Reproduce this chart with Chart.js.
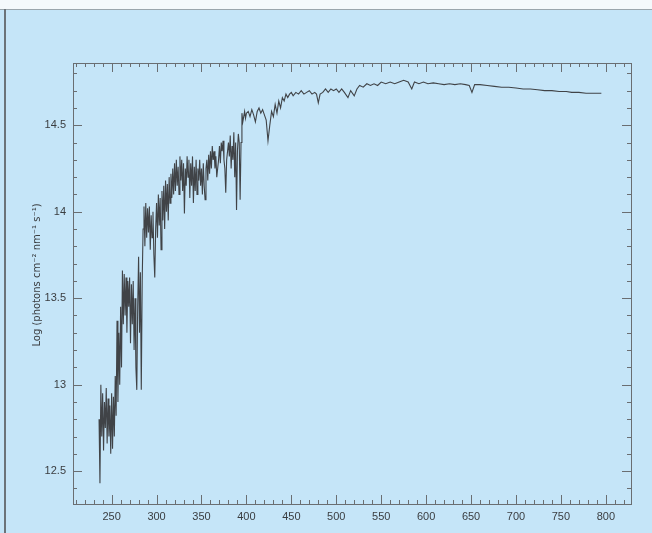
<!DOCTYPE html>
<html>
<head>
<meta charset="utf-8">
<script src="https://cdn.jsdelivr.net/npm/chart.js@4/dist/chart.umd.min.js"></script>
<style>
  html, body { margin: 0; padding: 0; }
  body { width: 652px; height: 533px; background: #c5e5f8; position: relative; overflow: hidden; }
  #topStrip { position: absolute; left: 0; top: 0; width: 652px; height: 9px; background: #f4f9fc; border-bottom: 1px solid #9aa6ad; }
  #leftEdge { position: absolute; left: 4px; top: 9px; width: 2px; height: 524px; background: #6b7379; }
  #wrap { position: absolute; left: 0; top: 0; width: 652px; height: 533px; }
</style>
</head>
<body>
<div id="topStrip"></div>
<div id="leftEdge"></div>
<div id="wrap"><canvas id="c" width="652" height="533"></canvas></div>
<script>
// wavelength (nm) and log photon flux
const wavelength = [
  236,237,238,239,240,241,242,243,244,245,246,247,248,249,250,251,252,253,254,255,
  256,257,258,259,260,261,262,263,264,265,266,267,268,269,270,271,272,273,274,275,
  276,277,278,279,280,281,282,283,284,285,286,287,288,289,290,291,292,293,294,295,
  296,297,298,299,300,301,302,303,304,305,306,307,308,309,310,311,312,313,314,315,
  316,317,318,319,320,321,322,323,324,325,326,327,328,329,330,331,332,333,334,335,
  336,337,338,339,340,341,342,343,344,345,346,347,348,349,350,351,352,353,354,355,
  356,357,358,359,360,361,362,363,364,365,366,367,368,369,370,371,372,373,374,375,
  376,377,378,379,380,381,382,383,384,385,386,387,388,389,390,391,392,393,394,395,
  396,397,398,399,400,402,404,406,408,410,412,414,416,418,420,422,424,426,428,430,
  432,434,436,438,440,442,444,446,448,450,452,455,458,461,464,467,470,473,476,478,
  480,482,485,488,491,494,497,500,503,506,509,513,516,520,523,526,530,534,538,542,
  546,550,555,560,565,570,575,580,584,587,592,597,602,608,614,620,626,632,638,644,
  648,651,654,660,668,676,684,692,700,708,716,724,732,740,748,756,762,770,778,786,
  795
];
const logFlux = [
  12.80,12.43,13.00,12.70,12.95,12.62,12.90,12.75,12.98,12.66,12.92,12.70,12.88,12.60,12.95,12.63,12.93,12.70,13.05,12.82,
  13.37,12.90,13.30,13.00,13.45,13.10,13.66,13.35,13.64,13.40,13.62,13.30,13.60,13.45,13.62,13.24,13.58,13.35,13.60,13.20,
  13.50,13.10,12.97,13.45,13.74,13.30,13.65,12.97,13.60,13.90,14.03,13.80,14.05,13.85,14.02,13.88,14.03,13.78,13.98,13.85,
  14.00,13.75,13.62,13.90,14.05,13.85,14.10,13.92,14.08,13.78,14.12,13.95,14.15,13.90,14.18,14.00,14.16,13.95,14.20,14.05,
  14.22,14.08,14.25,14.10,14.28,14.12,14.30,14.15,14.26,14.10,14.32,14.18,14.30,14.12,14.28,13.99,14.25,14.15,14.32,14.20,
  14.30,14.08,14.28,14.15,14.32,14.05,14.26,14.12,14.30,14.10,14.25,14.18,14.30,14.15,14.25,14.10,14.28,14.15,14.07,14.25,
  14.30,14.18,14.33,14.22,14.35,14.25,14.38,14.30,14.35,14.25,14.32,14.20,14.25,14.30,14.38,14.28,14.40,14.35,14.41,14.30,
  14.25,14.11,14.30,14.35,14.40,14.32,14.44,14.25,14.38,14.30,14.46,14.20,14.40,14.01,14.35,14.45,14.40,14.07,14.40,14.57,
  14.52,14.55,14.58,14.54,14.57,14.58,14.55,14.59,14.56,14.52,14.58,14.60,14.57,14.59,14.56,14.53,14.41,14.50,14.58,14.55,
  14.62,14.57,14.64,14.60,14.66,14.64,14.68,14.66,14.68,14.69,14.67,14.69,14.68,14.70,14.68,14.69,14.70,14.68,14.69,14.68,
  14.63,14.68,14.69,14.71,14.69,14.71,14.70,14.71,14.69,14.71,14.69,14.66,14.70,14.67,14.71,14.73,14.72,14.74,14.73,14.74,
  14.73,14.75,14.74,14.75,14.74,14.75,14.76,14.75,14.71,14.75,14.74,14.75,14.74,14.745,14.74,14.735,14.74,14.735,14.74,14.735,
  14.73,14.69,14.735,14.735,14.73,14.725,14.72,14.72,14.715,14.71,14.71,14.705,14.70,14.70,14.695,14.695,14.69,14.69,14.685,14.685,
  14.685
];
const xTickLabels = [250,300,350,400,450,500,550,600,650,700,750,800];
const yTickLabels = [12.5,13,13.5,14,14.5];
const yTitle = 'Log (photons cm\u207B\u00B2 nm\u207B\u00B9 s\u207B\u00B9)';

const axisColor = '#6a6e72';
const labelFont = { family: 'Liberation Sans', size: 11 };

// tick marks pointing into the plot, on all four sides, major + minor
const inwardTicks = {
  id: 'inwardTicks',
  afterDraw(chart) {
    const { ctx, chartArea: a, scales: { x, y } } = chart;
    ctx.save();
    ctx.strokeStyle = axisColor;
    ctx.lineWidth = 1;
    ctx.beginPath();
    for (let v = 210; v <= x.max; v += 10) {
      const px = Math.round(x.getPixelForValue(v)) + 0.5;
      const len = v % 50 === 0 ? 9 : 4;
      ctx.moveTo(px, a.bottom); ctx.lineTo(px, a.bottom - len);
      ctx.moveTo(px, a.top); ctx.lineTo(px, a.top + len);
    }
    for (let i = Math.ceil(y.min * 10); i <= y.max * 10; i++) {
      const py = Math.round(y.getPixelForValue(i / 10)) + 0.5;
      const len = i % 5 === 0 ? 9 : 4;
      ctx.moveTo(a.left, py); ctx.lineTo(a.left + len, py);
      ctx.moveTo(a.right, py); ctx.lineTo(a.right - len, py);
    }
    ctx.stroke();
    ctx.strokeRect(a.left + 0.5, a.top + 0.5, a.right - a.left, a.bottom - a.top);

    ctx.translate(37, 275);
    ctx.rotate(-Math.PI / 2);
    ctx.fillStyle = '#3a3d40';
    ctx.font = '10px "DejaVu Sans"';
    ctx.textAlign = 'center';
    ctx.textBaseline = 'middle';
    ctx.fillText(yTitle, 0, 0);
    ctx.restore();
  }
};

new Chart(document.getElementById('c'), {
  type: 'line',
  data: {
    datasets: [{
      data: wavelength.map((w, i) => ({ x: w, y: logFlux[i] })),
      borderColor: '#404347',
      borderWidth: 1.1,
      pointRadius: 0,
      tension: 0,
      fill: false
    }]
  },
  options: {
    responsive: false,
    animation: false,
    layout: { padding: { top: 63, right: 21, left: 0, bottom: 0 } },
    plugins: { legend: { display: false }, tooltip: { enabled: false } },
    scales: {
      x: {
        type: 'linear',
        min: 207,
        max: 828,
        afterBuildTicks: s => { s.ticks = xTickLabels.map(v => ({ value: v })); },
        afterFit: s => { s.height = 29; },
        grid: { display: false, drawTicks: false },
        border: { display: false },
        ticks: { color: '#3a3d40', font: labelFont, padding: 6, maxRotation: 0, autoSkip: false,
                 callback: v => String(v) }
      },
      y: {
        type: 'linear',
        min: 12.31,
        max: 14.86,
        afterBuildTicks: s => { s.ticks = yTickLabels.map(v => ({ value: v })); },
        afterFit: s => { s.width = 73; },
        grid: { display: false, drawTicks: false },
        border: { display: false },
        ticks: { color: '#3a3d40', font: labelFont, padding: 7, autoSkip: false,
                 callback: v => String(v) }
      }
    }
  },
  plugins: [inwardTicks]
});
</script>
</body>
</html>
